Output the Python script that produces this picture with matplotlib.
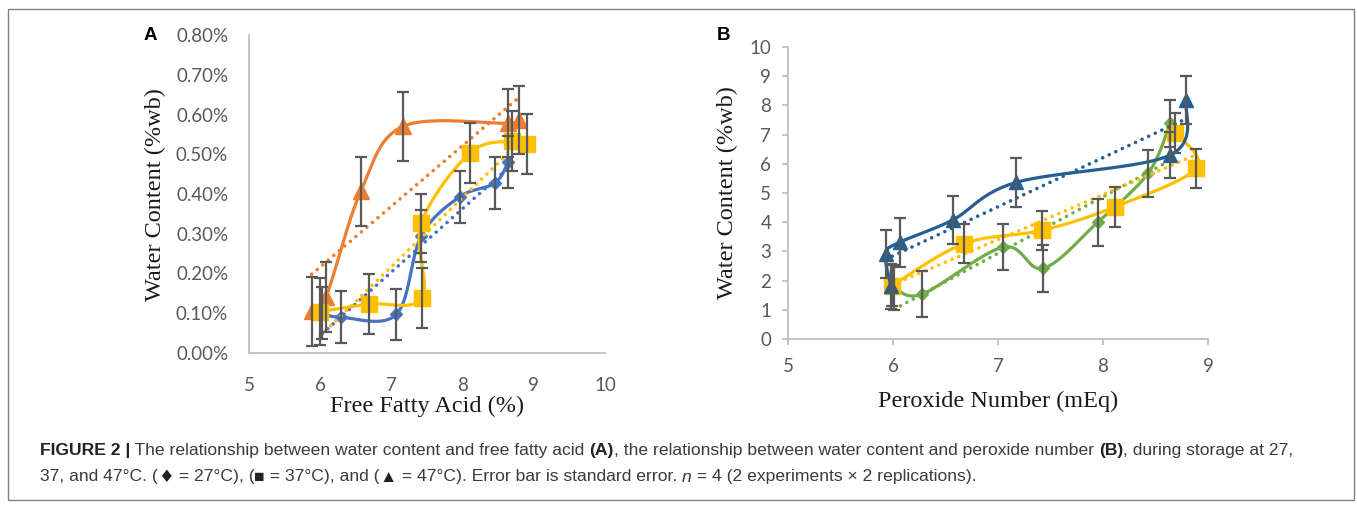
import numpy as np
import matplotlib
matplotlib.use('Agg')
import matplotlib.pyplot as plt
from matplotlib.patches import Rectangle
from matplotlib.transforms import IdentityTransform

W, H = 1357, 509

# ---- panel A: water content vs free fatty acid ----
ffa_27 = [6.03, 6.29, 7.07, 7.42, 7.96, 8.45, 8.64]
wc_27 = [0.100, 0.090, 0.097, 0.295, 0.393, 0.427, 0.480]
err_27 = [0.065, 0.065, 0.065, 0.065, 0.065, 0.065, 0.065]

ffa_37 = [6.00, 6.68, 7.43, 7.42, 8.10, 8.69, 8.90]
wc_37 = [0.104, 0.123, 0.138, 0.326, 0.503, 0.533, 0.526]
err_37 = [0.085, 0.075, 0.075, 0.075, 0.075, 0.075, 0.075]

ffa_47 = [5.88, 6.08, 6.57, 7.16, 8.64, 8.79]
wc_47 = [0.105, 0.140, 0.407, 0.570, 0.578, 0.586]
err_47 = [0.087, 0.088, 0.087, 0.086, 0.085, 0.085]

# ---- panel B: water content vs peroxide number ----
pn_27 = [6.01, 6.28, 7.05, 7.43, 7.95, 8.43, 8.64]
wcb_27 = [1.77, 1.54, 3.15, 2.42, 4.00, 5.68, 7.39]
errb_27 = [0.78, 0.80, 0.80, 0.80, 0.80, 0.80, 0.80]

pn_37 = [5.99, 6.68, 7.42, 8.11, 8.89, 8.69]
wcb_37 = [1.83, 3.27, 3.72, 4.52, 5.85, 7.05]
errb_37 = [0.70, 0.68, 0.68, 0.67, 0.67, 0.68]

pn_47 = [5.98, 5.93, 6.07, 6.57, 7.17, 8.64, 8.79]
wcb_47 = [1.80, 2.92, 3.32, 4.08, 5.36, 6.30, 8.18]
errb_47 = [0.78, 0.83, 0.84, 0.83, 0.83, 0.80, 0.83]

a_yticks = [0.0, 0.1, 0.2, 0.3, 0.4, 0.5, 0.6, 0.7, 0.8]
a_xticks = [5, 6, 7, 8, 9, 10]
b_yticks = list(range(0, 11))
b_xticks = [5, 6, 7, 8, 9]

ORANGE = '#ED7D31'
BLUE = '#4472C4'
YELLOW = '#FFC000'
DKBLUE = '#255E91'
GREEN = '#70AD47'
GRAY = '#595959'
SPINE = '#BFBFBF'


def smooth(xs, ys, n=40):
    # excel style smoothed line (catmull-rom bezier)
    P = np.column_stack([xs, ys]).astype(float)
    P = np.vstack([P[0], P, P[-1]])
    segs = []
    t = np.linspace(0, 1, n)[:, None]
    for i in range(1, len(P) - 2):
        p0, p1, p2, p3 = P[i - 1], P[i], P[i + 1], P[i + 2]
        c1 = p1 + (p2 - p0) / 6
        c2 = p2 - (p3 - p1) / 6
        segs.append((1 - t) ** 3 * p1 + 3 * (1 - t) ** 2 * t * c1
                    + 3 * (1 - t) * t ** 2 * c2 + t ** 3 * p2)
    s = np.vstack(segs)
    return s[:, 0], s[:, 1]


def series(ax, x, y, err, color, marker, ms, z):
    sx, sy = smooth(x, y)
    ax.plot(sx, sy, color=color, lw=2.3, zorder=z, solid_capstyle='round')
    ax.plot(x, y, ls='none', marker=marker, ms=ms, color=color, mec=color, zorder=z + 0.1)
    # linear trendline, dotted
    k, b = np.polyfit(x, y, 1)
    tx = np.array([min(x), max(x)])
    ax.plot(tx, k * tx + b, color=color, lw=2.6, ls=(0, (0.01, 2.0)),
            dash_capstyle='round', zorder=z - 0.5)
    ax.errorbar(x, y, yerr=err, fmt='none', ecolor=GRAY, elinewidth=1.6,
                capsize=4, capthick=1.6, zorder=10)


def style_axes(ax):
    for s in ['top', 'right']:
        ax.spines[s].set_visible(False)
    for s in ['left', 'bottom']:
        ax.spines[s].set_color(SPINE)
        ax.spines[s].set_linewidth(1.3)


fig = plt.figure(figsize=(W / 100, H / 100), dpi=100)
fig.patch.set_facecolor('white')

tickfont = dict(family='Lato', size=13.5, color=GRAY)
labfont = dict(family='Liberation Serif', size=17.5, color='#1a1a1a')

# panel A
axA = fig.add_axes([249 / W, 1 - 353 / H, (605 - 249) / W, (353 - 35) / H])
series(axA, ffa_47, wc_47, err_47, ORANGE, '^', 11.5, 3)
series(axA, ffa_27, wc_27, err_27, BLUE, 'D', 6, 4)
series(axA, ffa_37, wc_37, err_37, YELLOW, 's', 12, 5)
axA.set_xlim(5, 10)
axA.set_ylim(0, 0.8)
axA.set_xticks(a_xticks)
axA.set_yticks(a_yticks)
axA.set_xticklabels([str(v) for v in a_xticks], fontdict=tickfont)
axA.set_yticklabels([f'{v:.2f}%' for v in a_yticks], fontdict=tickfont)
axA.tick_params(length=0)
axA.tick_params(axis='y', pad=15)
axA.tick_params(axis='x', pad=17)
style_axes(axA)

# panel B
axB = fig.add_axes([788 / W, 1 - 339 / H, (1208 - 788) / W, (339 - 47) / H])
series(axB, pn_27, wcb_27, errb_27, GREEN, 'D', 6, 3)
series(axB, pn_37, wcb_37, errb_37, YELLOW, 's', 11, 4)
series(axB, pn_47, wcb_47, errb_47, DKBLUE, '^', 10.5, 5)
axB.set_xlim(5, 9)
axB.set_ylim(0, 10)
axB.set_xticks(b_xticks)
axB.set_yticks(b_yticks)
axB.set_xticklabels([str(v) for v in b_xticks], fontdict=tickfont)
axB.set_yticklabels([str(v) for v in b_yticks], fontdict=tickfont)
axB.tick_params(length=4, width=1.3, color=SPINE)
axB.tick_params(axis='y', pad=8)
axB.tick_params(axis='x', pad=10)
style_axes(axB)

# axis titles
fig.text(155 / W, 1 - 195 / H, 'Water Content (%wb)', rotation=90, ha='center', va='center', **labfont)
fig.text(427 / W, 1 - 406 / H, 'Free Fatty Acid (%)', ha='center', va='center', **labfont)
fig.text(727 / W, 1 - 193 / H, 'Water Content (%wb)', rotation=90, ha='center', va='center', **labfont)
fig.text(998 / W, 1 - 401 / H, 'Peroxide Number (mEq)', ha='center', va='center', **labfont)

# panel letters
fig.text(150 / W, 1 - 35 / H, 'A', ha='center', va='center', family='Liberation Sans',
         weight='bold', size=13.5, color='black')
fig.text(724 / W, 1 - 35 / H, 'B', ha='center', va='center', family='Liberation Sans',
         weight='bold', size=13.5, color='black')

# frame round the figure
fig.add_artist(Rectangle((8 / W, 1 - 500 / H), (1354 - 8) / W, (500 - 9) / H,
                         transform=fig.transFigure, fill=False, ec='#808080', lw=1))

# caption with mixed styles
renderer = fig.canvas.get_renderer()
SANS = ['Liberation Sans', 'DejaVu Sans']
SYM = ['DejaVu Sans']
cap_size = 12.6


def rich_line(x, y, parts):
    for s, weight, style, col, fam in parts:
        t = fig.text(x, H - y, s, transform=IdentityTransform(), family=fam,
                     size=cap_size, weight=weight, style=style, color=col, va='center')
        x = t.get_window_extent(renderer=renderer).x1


TXT = '#3a3a3a'
DARK = '#222222'
rich_line(40, 450, [
    ('FIGURE 2 |', 'bold', 'normal', DARK, SANS),
    (' The relationship between water content and free fatty acid ', 'normal', 'normal', TXT, SANS),
    ('(A)', 'bold', 'normal', DARK, SANS),
    (', the relationship between water content and peroxide number ', 'normal', 'normal', TXT, SANS),
    ('(B)', 'bold', 'normal', DARK, SANS),
    (', during storage at 27,', 'normal', 'normal', TXT, SANS),
])
rich_line(40, 477, [
    ('37, and 47\u00b0C. (', 'normal', 'normal', TXT, SANS),
    ('\u2666', 'normal', 'normal', DARK, SYM),
    (' = 27\u00b0C), (', 'normal', 'normal', TXT, SANS),
    ('\u25a0', 'normal', 'normal', DARK, SANS),
    (' = 37\u00b0C), and (', 'normal', 'normal', TXT, SANS),
    ('\u25b2', 'normal', 'normal', DARK, SANS),
    (' = 47\u00b0C). Error bar is standard error. ', 'normal', 'normal', TXT, SANS),
    ('n', 'normal', 'italic', TXT, SANS),
    (' = 4 (2 experiments \u00d7 2 replications).', 'normal', 'normal', TXT, SANS),
])

fig.savefig('out.png', dpi=100)
